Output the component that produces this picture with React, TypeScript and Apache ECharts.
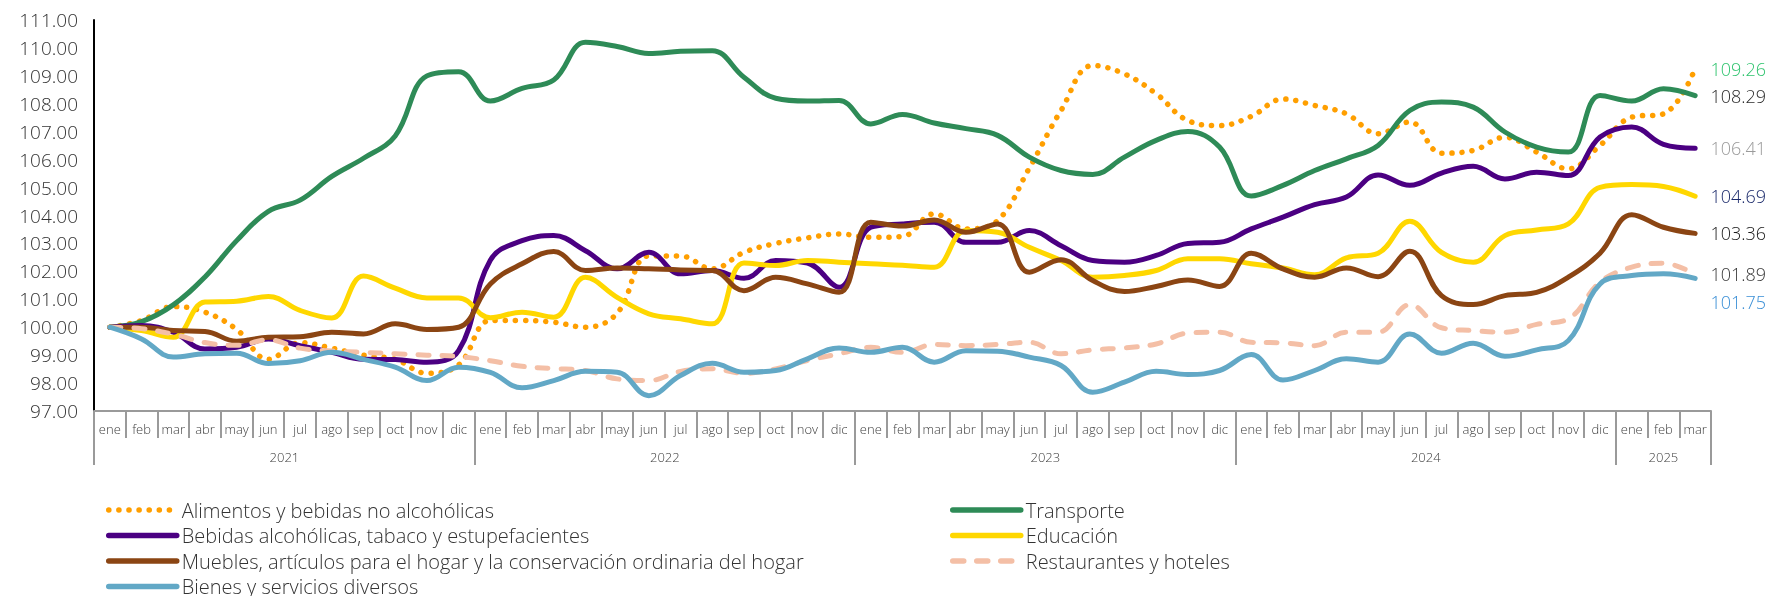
import React, { useEffect, useRef } from 'react';
import * as echarts from 'echarts';

const monthNames = ['ene', 'feb', 'mar', 'abr', 'may', 'jun', 'jul', 'ago', 'sep', 'oct', 'nov', 'dic'];
const years = ['2021', '2022', '2023', '2024', '2025'];
const monthsPerYear = [12, 12, 12, 12, 3];

const monthCats: string[] = [];
const yearCats: string[] = [];
const yearStarts: number[] = [];
const yearMids: number[] = [];
years.forEach((y, k) => {
  yearStarts.push(monthCats.length);
  yearMids.push(monthCats.length + Math.floor((monthsPerYear[k] - 1) / 2));
  for (let m = 0; m < monthsPerYear[k]; m++) {
    monthCats.push(monthNames[m]);
    yearCats.push(y);
  }
});

const alimentos = [
  100.0, 100.24, 100.74, 100.54, 99.92, 98.85, 99.45, 99.25, 99.0, 98.85, 98.35, 98.65,
  100.24, 100.24, 100.18, 100.0, 100.5, 102.55, 102.55, 102.09, 102.68, 103.0, 103.2, 103.34,
  103.22, 103.25, 104.06, 103.52, 103.82, 105.7, 107.76, 109.37, 109.07, 108.36, 107.4, 107.22,
  107.55, 108.17, 107.94, 107.64, 106.93, 107.35, 106.23, 106.33, 106.8, 106.27, 105.67, 106.51,
  107.52, 107.64, 109.26,
];
const transporte = [
  100.0, 100.2, 100.8, 101.8, 103.1, 104.15, 104.55, 105.4, 106.05, 106.85, 109.0, 109.15,
  108.1, 108.55, 108.85, 110.2, 110.05, 109.8, 109.88, 109.9, 108.95, 108.2, 108.1, 108.12,
  107.28, 107.62, 107.31, 107.11, 106.87, 106.09, 105.61, 105.47, 106.09, 106.69, 107.01, 106.45,
  104.7, 105.08, 105.61, 106.03, 106.51, 107.76, 108.06, 107.88, 106.99, 106.45, 106.27, 108.3,
  108.1, 108.54, 108.29,
];
const bebidas = [
  100.0, 100.06, 99.82, 99.22, 99.28, 99.58, 99.34, 99.1, 98.85, 98.84, 98.75, 99.16,
  102.4, 103.1, 103.28, 102.74, 102.09, 102.68, 101.91, 102.03, 101.75, 102.39, 102.3, 101.43,
  103.58, 103.7, 103.76, 103.04, 103.04, 103.46, 102.92, 102.39, 102.33, 102.57, 103.0, 103.04,
  103.52, 103.94, 104.39, 104.66, 105.45, 105.08, 105.52, 105.76, 105.31, 105.55, 105.43, 106.81,
  107.17, 106.55, 106.41,
];
const educacion = [
  100.0, 99.88, 99.64, 100.9, 100.93, 101.1, 100.6, 100.33, 101.83, 101.4, 101.05, 101.05,
  100.34, 100.54, 100.36, 101.79, 101.07, 100.48, 100.3, 100.12, 102.3, 102.21, 102.39, 102.33,
  102.27, 102.22, 102.15, 103.46, 103.4, 102.86, 102.39, 101.79, 101.85, 102.03, 102.45, 102.45,
  102.27, 102.12, 101.88, 102.48, 102.65, 103.79, 102.68, 102.33, 103.28, 103.48, 103.7, 105.01,
  105.11, 105.04, 104.69,
];
const muebles = [
  100.0, 100.0, 99.88, 99.85, 99.5, 99.64, 99.66, 99.82, 99.76, 100.12, 99.92, 100.0,
  101.55, 102.27, 102.71, 102.03, 102.12, 102.09, 102.05, 102.03, 101.31, 101.79, 101.55, 101.25,
  103.76, 103.62, 103.84, 103.4, 103.7, 101.97, 102.42, 101.67, 101.28, 101.46, 101.69, 101.46,
  102.65, 102.09, 101.79, 102.12, 101.81, 102.72, 101.13, 100.81, 101.13, 101.25, 101.79, 102.65,
  104.03, 103.58, 103.36,
];
const restaurantes = [
  100.0, 99.95, 99.75, 99.45, 99.35, 99.55, 99.25, 99.15, 99.1, 99.05, 99.0, 98.95,
  98.8, 98.6, 98.52, 98.45, 98.15, 98.09, 98.42, 98.51, 98.35, 98.51, 98.81, 99.05,
  99.28, 99.1, 99.38, 99.34, 99.38, 99.46, 99.05, 99.19, 99.26, 99.4, 99.79, 99.82,
  99.46, 99.44, 99.34, 99.82, 99.82, 100.81, 99.98, 99.88, 99.82, 100.1, 100.3, 101.61,
  102.15, 102.29, 101.89,
];
const bienes = [
  100.0, 99.58, 98.93, 99.05, 99.07, 98.7, 98.8, 99.1, 98.85, 98.57, 98.09, 98.57,
  98.38, 97.83, 98.09, 98.42, 98.39, 97.55, 98.27, 98.71, 98.39, 98.45, 98.87, 99.26,
  99.1, 99.28, 98.75, 99.16, 99.14, 98.93, 98.63, 97.67, 98.03, 98.42, 98.31, 98.45,
  99.02, 98.11, 98.45, 98.87, 98.75, 99.76, 99.07, 99.43, 98.96, 99.19, 99.52, 101.55,
  101.85, 101.91, 101.75,
];

const FONT = '"Open Sans", Lato, sans-serif';
const WEIGHT = 300;
const GRAY = '#9a9a9a';

type SeriesDef = {
  name: string;
  data: number[];
  color: string;
  type: any;
  width: number;
  labelColor: string;
  labelOffset: number;
};

const seriesDefs: SeriesDef[] = [
  { name: 'Alimentos y bebidas no alcohólicas', data: alimentos, color: '#FF9F00', type: [0.1, 10], width: 5.5, labelColor: '#2FC46E', labelOffset: 0 },
  { name: 'Transporte', data: transporte, color: '#2E8B57', type: 'solid', width: 5, labelColor: '#2b2b2b', labelOffset: 0 },
  { name: 'Bebidas alcohólicas, tabaco y estupefacientes', data: bebidas, color: '#4B0082', type: 'solid', width: 5, labelColor: '#9a9a9a', labelOffset: 0 },
  { name: 'Educación', data: educacion, color: '#FFD700', type: 'solid', width: 5, labelColor: '#1B2A6B', labelOffset: 0 },
  { name: 'Muebles, artículos para el hogar y la conservación ordinaria del hogar', data: muebles, color: '#8B4513', type: 'solid', width: 5, labelColor: '#1a1a1a', labelOffset: 0 },
  { name: 'Restaurantes y hoteles', data: restaurantes, color: '#F4BFA6', type: [11, 13], width: 5, labelColor: '#3a3a3a', labelOffset: 0 },
  { name: 'Bienes y servicios diversos', data: bienes, color: '#62A8C6', type: 'solid', width: 5, labelColor: '#3A8FD6', labelOffset: 24 },
];

const leftLegend = [seriesDefs[0].name, seriesDefs[2].name, seriesDefs[4].name, seriesDefs[6].name];
const rightLegend = [seriesDefs[1].name, seriesDefs[3].name, seriesDefs[5].name];

export default function App() {
  const ref = useRef<HTMLDivElement>(null);
  useEffect(() => {
    if (!ref.current) return;
    const chart = echarts.init(ref.current, undefined, { renderer: 'svg' });
    const legendCommon = {
      orient: 'vertical',
      top: 495,
      height: 200,
      itemWidth: 68,
      itemHeight: 5,
      itemGap: 5.5,
      selectedMode: false,
      itemStyle: { opacity: 0 },
      lineStyle: { width: 5.5, cap: 'round' },
      textStyle: { fontSize: 20, color: '#333', lineHeight: 20, fontFamily: FONT, fontWeight: WEIGHT },
    };
    chart.setOption({
      animation: false,
      textStyle: { fontFamily: FONT, fontWeight: WEIGHT },
      grid: { left: 94, right: 56, top: 20, bottom: 185 },
      legend: [
        { ...legendCommon, left: 101, data: leftLegend },
        { ...legendCommon, left: 945, data: rightLegend },
      ],
      xAxis: [
        {
          type: 'category',
          data: monthCats,
          boundaryGap: true,
          axisLine: { lineStyle: { color: GRAY, width: 2 } },
          axisTick: { show: true, interval: 0, length: 27, lineStyle: { color: GRAY, width: 2 } },
          axisLabel: { interval: 0, fontSize: 13, color: '#404040', margin: 11, fontFamily: FONT, fontWeight: WEIGHT },
        },
        {
          type: 'category',
          data: yearCats,
          position: 'bottom',
          offset: 27,
          boundaryGap: true,
          axisLine: { show: false },
          axisTick: {
            show: true,
            interval: (i: number) => yearStarts.includes(i),
            length: 27,
            lineStyle: { color: GRAY, width: 2 },
          },
          axisLabel: {
            interval: (i: number) => yearMids.includes(i),
            margin: 12,
            fontSize: 13,
            color: '#404040',
            fontFamily: FONT,
            fontWeight: WEIGHT,
            formatter: (v: string) => {
              const k = years.indexOf(v);
              return monthsPerYear[k] % 2 === 0 ? '{p|' + v + '}' : v;
            },
            rich: { p: { padding: [0, 0, 0, 32], fontSize: 13, color: '#404040', fontFamily: FONT, fontWeight: WEIGHT } },
          },
        },
      ],
      yAxis: {
        type: 'value',
        min: 97,
        max: 111,
        interval: 1,
        axisLine: { show: true, lineStyle: { color: '#000', width: 2 } },
        axisTick: { show: false },
        splitLine: { show: false },
        axisLabel: {
          formatter: (v: number) => v.toFixed(2),
          fontSize: 19,
          color: '#333',
          margin: 16,
          fontFamily: FONT,
          fontWeight: WEIGHT,
        },
      },
      series: seriesDefs.map((s) => ({
        name: s.name,
        type: 'line',
        data: s.data,
        smooth: 0.4,
        symbol: 'none',
        showSymbol: false,
        color: s.color,
        lineStyle: { color: s.color, width: s.width, type: s.type, cap: 'round', join: 'round' },
        endLabel: {
          show: true,
          formatter: () => s.data[s.data.length - 1].toFixed(2),
          color: s.labelColor,
          fontSize: 18,
          fontFamily: FONT,
          fontWeight: WEIGHT,
          distance: 71,
          align: 'right',
          offset: [0, s.labelOffset],
        },
      })),
    });
    return () => chart.dispose();
  }, []);
  return <div ref={ref} style={{ position: 'fixed', left: 0, top: 0, width: 1767, height: 596 }} />;
}
